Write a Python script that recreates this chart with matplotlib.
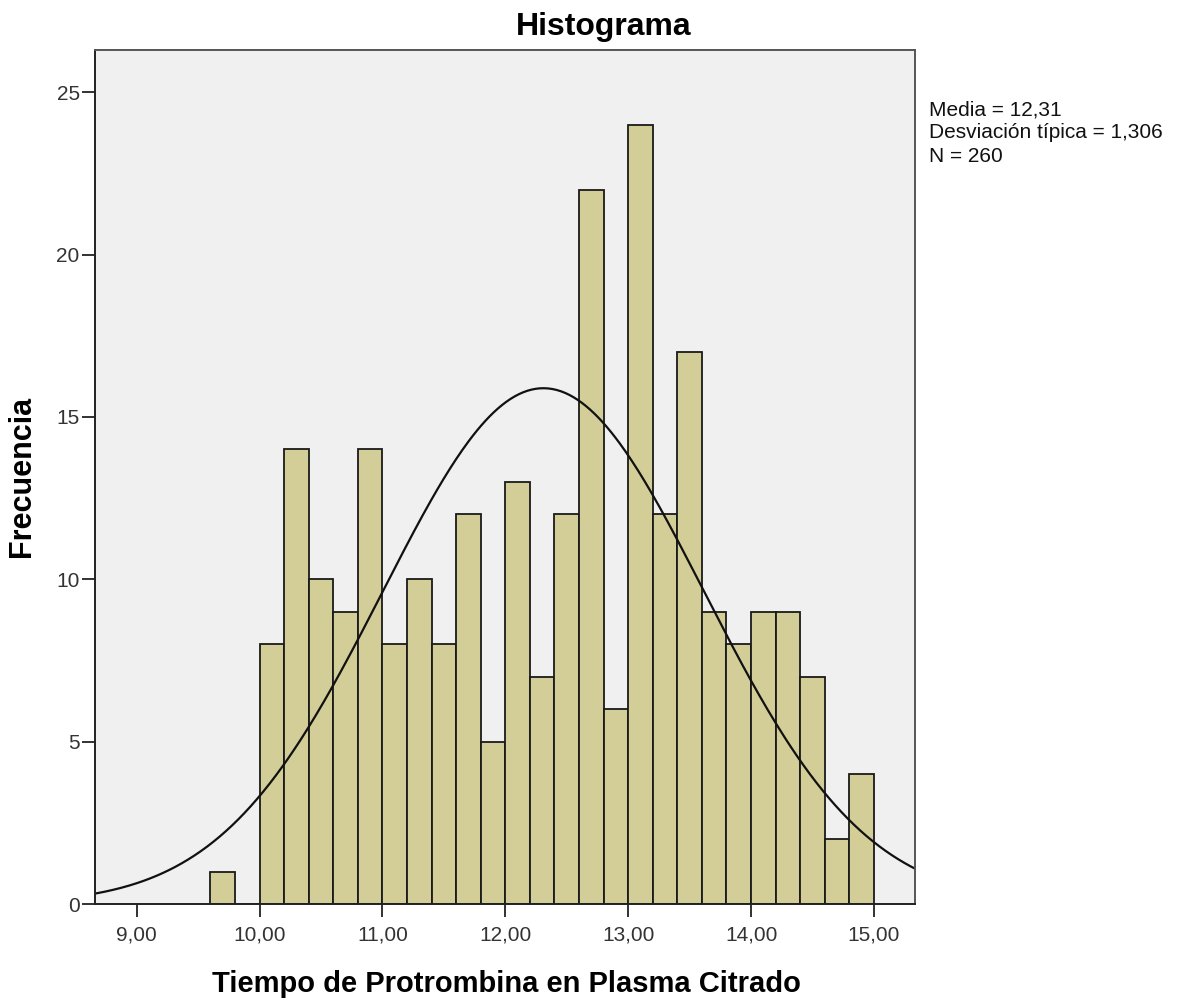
import numpy as np
import matplotlib
matplotlib.use('Agg')
from matplotlib import pyplot as plt

plt.rcParams['font.family'] = ['Liberation Sans', 'DejaVu Sans']

bin_edges = [9.6, 9.8, 10.0, 10.2, 10.4, 10.6, 10.8, 11.0, 11.2, 11.4, 11.6, 11.8, 12.0,
             12.2, 12.4, 12.6, 12.8, 13.0, 13.2, 13.4, 13.6, 13.8, 14.0, 14.2, 14.4,
             14.6, 14.8, 15.0]
counts = [1, 0, 8, 14, 10, 9, 14, 8, 10, 8, 12, 5, 13, 7, 12, 22, 6, 24, 12, 17,
          9, 8, 9, 9, 7, 2, 4]

media = 12.31
desv = 1.306
n = 260

xticks = [9, 10, 11, 12, 13, 14, 15]
xtick_labels = ['9,00', '10,00', '11,00', '12,00', '13,00', '14,00', '15,00']
yticks = [0, 5, 10, 15, 20, 25]

W, H = 1184, 999
fig = plt.figure(figsize=(W / 100, H / 100), dpi=100)
ax = fig.add_axes([95 / W, 1 - 904 / H, (915 - 95) / W, (904 - 50) / H])
ax.set_facecolor('#F0F0F0')

lefts = np.array(bin_edges[:-1])
widths = np.diff(bin_edges)
ax.bar(lefts, counts, width=widths, align='edge', color='#D3CE98',
       edgecolor='#1a1a1a', linewidth=1.3)

# curva normal con la media y desviacion
binw = 0.2
xs = np.linspace(8.6, 15.4, 400)
ys = n * binw * np.exp(-0.5 * ((xs - media) / desv) ** 2) / (desv * np.sqrt(2 * np.pi))
ax.plot(xs, ys, color='#111111', linewidth=1.6)

ax.set_xlim(8.661, 15.334)
ax.set_ylim(0, 26.3)
ax.set_xticks(xticks)
ax.set_xticklabels(xtick_labels)
ax.set_yticks(yticks)
ax.tick_params(axis='both', direction='out', length=9.5, width=1.3, labelsize=15,
               colors='#222222', labelcolor='#333333')
ax.tick_params(axis='y', pad=1.5)
ax.tick_params(axis='x', pad=6)
for s in ax.spines.values():
    s.set_color('#555555')
    s.set_linewidth(1.4)
ax.spines['left'].set_color('#222222')
ax.spines['bottom'].set_color('#222222')

fig.text(506 / W, 1 - 992 / H, 'Tiempo de Protrombina en Plasma Citrado',
         fontsize=21, fontweight='bold', ha='center', va='baseline')
fig.text(22 / W, 1 - 476 / H, 'Frecuencia', fontsize=22, fontweight='bold',
         rotation=90, ha='center', va='center')
fig.text(604 / W, 1 - 35 / H, 'Histograma', fontsize=23, fontweight='bold',
         ha='center', va='baseline')

fig.text(929 / W, 1 - 100 / H,
         'Media = 12,31\nDesviación típica = 1,306\nN = 260',
         fontsize=15, ha='left', va='top', linespacing=1.3, color='#111111')

plt.savefig('out.png', dpi=100)
